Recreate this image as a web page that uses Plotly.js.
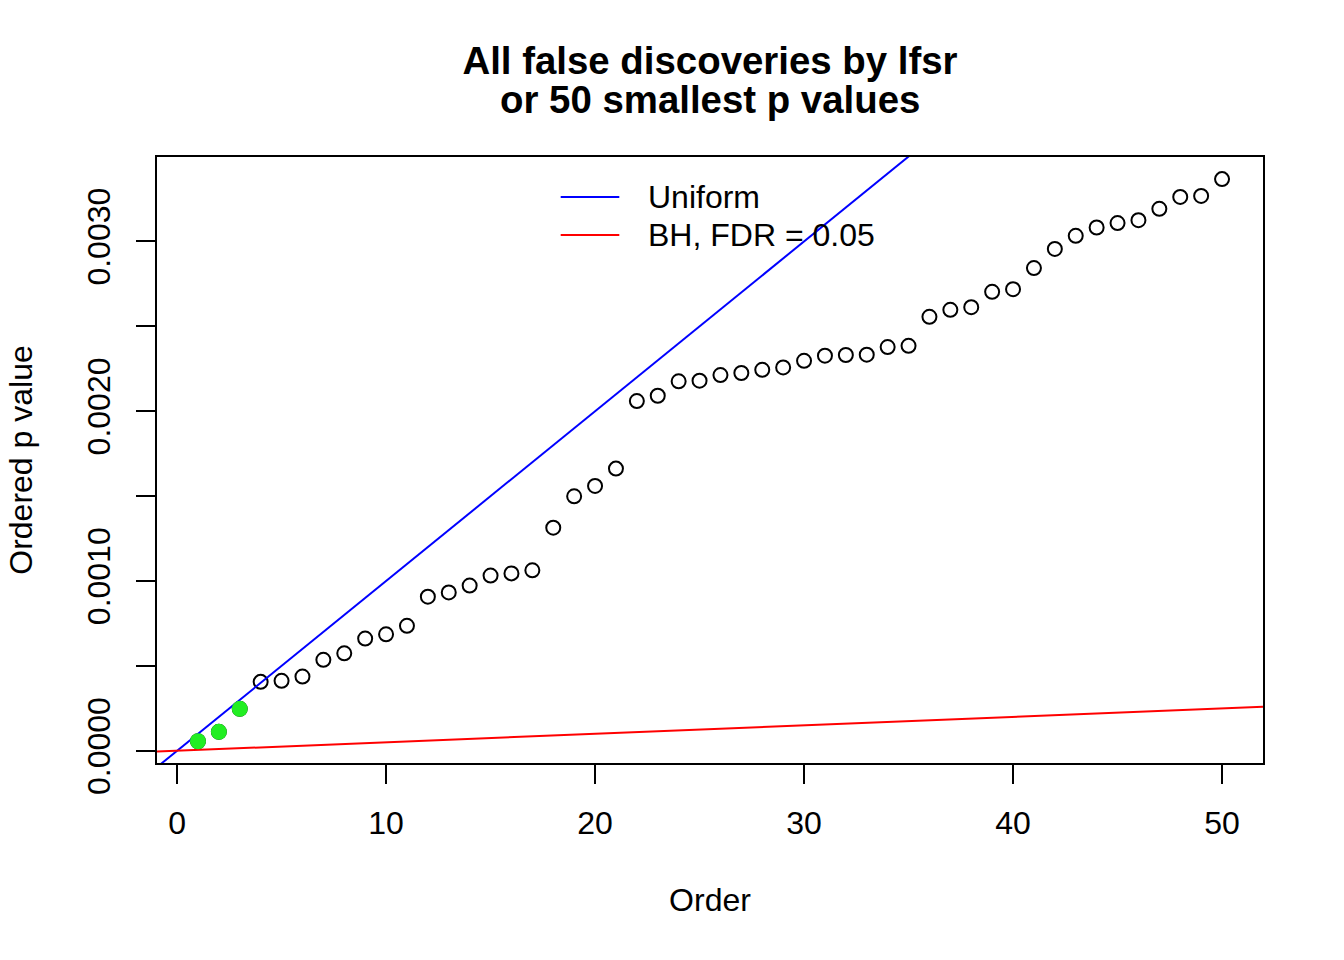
<!DOCTYPE html>
<html>
<head>
<meta charset="utf-8">
<script src="https://cdn.plot.ly/plotly-3.0.1.min.js"></script>
<style>html,body{margin:0;padding:0;background:#fff;}#chart{width:1344px;height:960px;}</style>
</head>
<body>
<div id="chart"></div>
<script>
// ---- data ----
const order = [1,2,3,4,5,6,7,8,9,10,11,12,13,14,15,16,17,18,19,20,21,22,23,24,25,26,27,28,29,30,31,32,33,34,35,36,37,38,39,40,41,42,43,44,45,46,47,48,49,50];
const pValues = [0.0000565,0.0001118,0.0002472,0.000406,0.000412,0.000437,0.000536,0.000574,0.000661,0.000686,
                 0.000736,0.000908,0.000933,0.000973,0.001032,0.001045,0.001063,0.001314,0.001499,0.001560,
                 0.001662,0.002060,0.002091,0.002176,0.002180,0.002213,0.002225,0.002244,0.002258,0.002297,
                 0.002327,0.002331,0.002333,0.002378,0.002385,0.002556,0.002597,0.002613,0.002703,0.002719,
                 0.002843,0.002956,0.003033,0.003082,0.003108,0.003125,0.003192,0.003262,0.003268,0.003367];
const lfsrDiscoveryOrder = [1,2,3];
const lfsrDiscoveryP = [0.0000565,0.0001118,0.0002472];
const nTests = 10000;
const fdrLevel = 0.05;
const xRange = [-0.96, 51.96];
const yRange = [-0.0000718, 0.0034973];
const xTickVals = [0,10,20,30,40,50];
const yTickVals = [0,0.0005,0.001,0.0015,0.002,0.0025,0.003];
const yTickText = ['0.0000','','0.0010','','0.0020','','0.0030'];
const legendLabels = ['Uniform','BH, FDR = 0.05'];
const titleLines = ['All false discoveries by lfsr','or 50 smallest p values'];

// ---- traces ----
const uniformY = xRange.map(x => x / nTests);
const bhY = xRange.map(x => fdrLevel * x / nTests);
const FONT = 'Liberation Sans, Arial, Helvetica, sans-serif';

const traces = [
  {x: order, y: pValues, type: 'scatter', mode: 'markers', name: 'p values',
   marker: {symbol: 'circle-open', size: 14, color: '#000', line: {width: 2, color: '#000'}}, showlegend: false},
  {x: xRange, y: uniformY, type: 'scatter', mode: 'lines', name: legendLabels[0],
   line: {color: '#0000FF', width: 2}, showlegend: false},
  {x: xRange, y: bhY, type: 'scatter', mode: 'lines', name: legendLabels[1],
   line: {color: '#FF0000', width: 2}, showlegend: false},
  {x: lfsrDiscoveryOrder, y: lfsrDiscoveryP, type: 'scatter', mode: 'markers', name: 'lfsr discoveries',
   marker: {symbol: 'circle', size: 16, color: '#22EE22', line: {width: 0}}, showlegend: false}
];

const legY = [0.934, 0.8714];
const legColors = ['#0000FF', '#FF0000'];
const shapes = legY.map((y, i) => ({type: 'line', xref: 'paper', yref: 'paper',
  x0: 0.365, x1: 0.418, y0: y, y1: y, line: {color: legColors[i], width: 2}}));
const annotations = legY.map((y, i) => ({xref: 'paper', yref: 'paper', x: 0.4425, y: y,
  xanchor: 'left', yanchor: 'middle', showarrow: false, text: legendLabels[i],
  font: {family: FONT, size: 32, color: '#000'}}));
annotations.push({xref: 'paper', yref: 'paper', x: 0.5, y: 1.0955, xanchor: 'center', yanchor: 'middle',
  showarrow: false, text: '<b>' + titleLines[1] + '</b>', font: {family: FONT, size: 38.4, color: '#000'}});

const axisCommon = {
  showgrid: false, zeroline: false, showline: true, linewidth: 2, linecolor: '#000', mirror: true,
  ticks: 'outside', ticklen: 19, tickwidth: 2, tickcolor: '#000',
  tickfont: {family: FONT, size: 32, color: '#000'}
};

const layout = {
  width: 1344, height: 960,
  margin: {l: 157, r: 81, t: 157, b: 197, pad: 0},
  paper_bgcolor: '#fff', plot_bgcolor: '#fff',
  font: {family: FONT, size: 32, color: '#000'},
  title: {text: '<b>' + titleLines[0] + '</b>', font: {family: FONT, size: 38.4, color: '#000'},
          x: 0.5, xref: 'paper', y: 1 - 61/960, yref: 'container', yanchor: 'middle'},
  xaxis: Object.assign({}, axisCommon, {range: xRange, tickvals: xTickVals, ticktext: xTickVals.map(String),
          ticklabelstandoff: 12,
          title: {text: 'Order', font: {family: FONT, size: 32, color: '#000'}, standoff: 48}}),
  yaxis: Object.assign({}, axisCommon, {range: yRange, tickvals: yTickVals, ticktext: yTickText,
          tickangle: -90, ticklabelstandoff: 13,
          title: {text: 'Ordered p value', font: {family: FONT, size: 32, color: '#000'}, standoff: 39}}),
  shapes: shapes, annotations: annotations, showlegend: false
};

Plotly.newPlot('chart', traces, layout, {displayModeBar: false, staticPlot: true});
</script>
</body>
</html>
